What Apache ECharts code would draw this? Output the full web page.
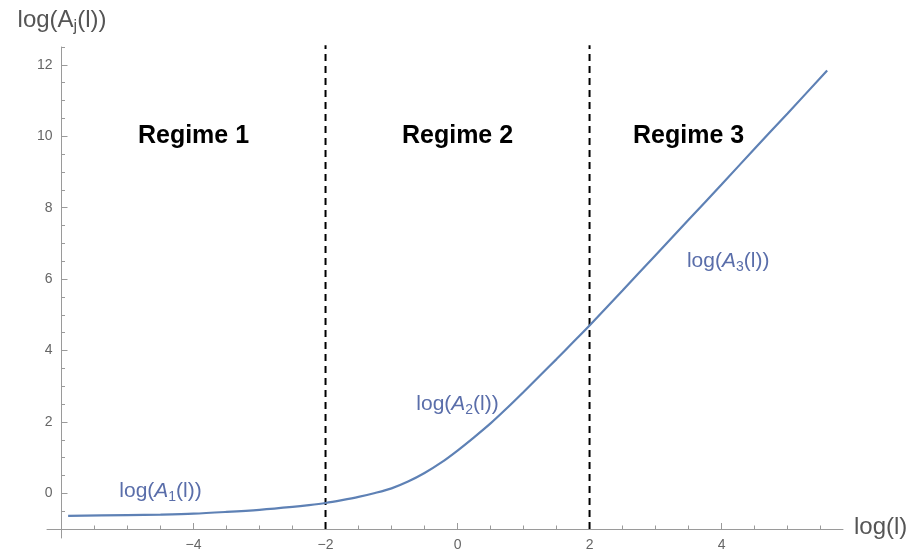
<!DOCTYPE html>
<html>
<head>
<meta charset="utf-8">
<title>log(A_j(l))</title>
<script src="https://cdn.jsdelivr.net/npm/echarts@6/dist/echarts.min.js"></script>
<style>
  html, body { margin: 0; padding: 0; background: #fff; }
  #chart { width: 917px; height: 553px; }
</style>
</head>
<body>
<div id="chart"></div>
<script>
// curve
var logL = [-5.9, -5, -4.5, -4, -3.5, -3, -2.5, -2.25, -2, -1.75, -1.5, -1.25, -1, -0.75, -0.5, -0.25, 0, 0.25, 0.5, 0.75, 1, 1.25, 1.5, 1.75, 2, 2.5, 3, 3.5, 4, 4.5, 5, 5.6];
var logA = [-0.63, -0.61, -0.595, -0.57, -0.52, -0.46, -0.38, -0.33, -0.27, -0.19, -0.10, 0.01, 0.14, 0.33, 0.57, 0.86, 1.2, 1.57, 1.96, 2.39, 2.84, 3.3, 3.76, 4.23, 4.7, 5.68, 6.67, 7.66, 8.65, 9.65, 10.64, 11.84];

// regime borders and labels
var regimeBounds = [-2, 2];
var regimeNames = ['Regime 1', 'Regime 2', 'Regime 3'];
var regimeX = [-4, 0, 3.5];
var regimeY = [10, 10, 10];

// curve labels
var curveSubs = ['1', '2', '3'];
var curveLabelX = [-4.5, 0, 4.1];
var curveLabelY = [0.05, 2.5, 6.5];

// ticks
var xTicks = [-4, -2, 0, 2, 4];
var xMinor = [-5.5, -5, -4.5, -3.5, -3, -2.5, -1.5, -1, -0.5, 0.5, 1, 1.5, 2.5, 3, 3.5, 4.5, 5, 5.5];
var yTicks = [0, 2, 4, 6, 8, 10, 12];
var yMinor = [-0.5, 0.5, 1, 1.5, 2.5, 3, 3.5, 4.5, 5, 5.5, 6.5, 7, 7.5, 8.5, 9, 9.5, 10.5, 11, 11.5, 12.5];

var X_MIN = -6.22, X_MAX = 5.84, Y_MIN = -1.25, Y_MAX = 12.5;
var FONT = '"Liberation Sans", Arial, Helvetica, sans-serif';
var AXIS_COLOR = '#9a9a9a';
var CURVE_COLOR = '#5e81b5';
var LABEL_COLOR = '#5a6eaa';

var curveData = logL.map(function (x, i) { return [x, logA[i]]; });

var minus = function (v) { return String(v).replace('-', '\u2212'); };

function xAxisDef(major) {
  return {
    type: 'value', position: 'bottom', min: X_MIN, max: X_MAX, offset: -9,
    axisLine: { show: major, onZero: false, lineStyle: { color: AXIS_COLOR, width: 1 } },
    axisTick: { show: true, inside: true, length: major ? 6 : 3.5, customValues: major ? xTicks : xMinor,
      lineStyle: { color: AXIS_COLOR } },
    axisLabel: { show: major, customValues: xTicks, formatter: minus, margin: 9,
      color: '#666', fontSize: 14, fontFamily: FONT },
    splitLine: { show: false }
  };
}
function yAxisDef(major) {
  return {
    type: 'value', min: Y_MIN, max: Y_MAX, offset: -14.5, position: 'left',
    axisLine: { show: major, onZero: false, lineStyle: { color: AXIS_COLOR, width: 1 } },
    axisTick: { show: true, inside: true, length: major ? 6 : 3.5, customValues: major ? yTicks : yMinor,
      lineStyle: { color: AXIS_COLOR } },
    axisLabel: { show: major, customValues: yTicks, formatter: minus, margin: 9,
      color: '#666', fontSize: 14, fontFamily: FONT },
    splitLine: { show: false }
  };
}

var richLabel = {
  n: { fontSize: 21, fontFamily: FONT, color: LABEL_COLOR, lineHeight: 26 },
  i: { fontSize: 21, fontFamily: FONT, color: LABEL_COLOR, fontStyle: 'italic', lineHeight: 26 },
  s: { fontSize: 14, fontFamily: FONT, color: LABEL_COLOR, verticalAlign: 'bottom', lineHeight: 18 }
};

var series = [{
  type: 'line', data: curveData, smooth: 0.3, showSymbol: false,
  lineStyle: { color: CURVE_COLOR, width: 2.2 }, z: 3
}];

regimeBounds.forEach(function (b) {
  series.push({
    type: 'line', data: [[b, -1], [b, 12.55]], showSymbol: false, clip: false,
    lineStyle: { color: '#000', width: 2, type: [7, 5] }, z: 2
  });
});

series.push({
  type: 'scatter', symbolSize: 0, z: 4, silent: true, itemStyle: { opacity: 1 },
  data: regimeNames.map(function (n, i) { return { name: n, value: [regimeX[i], regimeY[i]] }; }),
  label: { show: true, position: [0, 0], align: 'center', verticalAlign: 'middle', formatter: '{b}',
    color: '#000', fontSize: 25, fontWeight: 'bold', fontFamily: FONT }
});

series.push({
  type: 'scatter', symbolSize: 0, z: 4, silent: true, itemStyle: { opacity: 1 },
  data: curveSubs.map(function (s, i) { return { name: s, value: [curveLabelX[i], curveLabelY[i]] }; }),
  label: { show: true, position: [0, 0], align: 'center', verticalAlign: 'middle',
    formatter: function (p) { return '{n|log(}{i|A}{s|' + p.name + '}{n|(l))}'; },
    rich: richLabel }
});

var chart = echarts.init(document.getElementById('chart'));
chart.setOption({
  animation: false,
  grid: { left: 47, right: 74, top: 47, bottom: 15, containLabel: false },
  xAxis: [xAxisDef(true), xAxisDef(false)],
  yAxis: [yAxisDef(true), yAxisDef(false)],
  graphic: [
    { type: 'text', x: 62, y: 20, style: {
      text: '{n|log(A}{s|j}{n|(l))}', align: 'center', verticalAlign: 'middle',
      rich: {
        n: { fontSize: 24, fontFamily: FONT, fill: '#555', color: '#555', lineHeight: 30 },
        s: { fontSize: 16, fontFamily: FONT, fill: '#555', color: '#555', verticalAlign: 'bottom', lineHeight: 20 }
      } } },
    { type: 'text', x: 854, y: 527, style: {
      text: 'log(l)', align: 'left', verticalAlign: 'middle',
      font: '24px ' + FONT, fill: '#555' } }
  ],
  series: series
});
</script>
</body>
</html>
